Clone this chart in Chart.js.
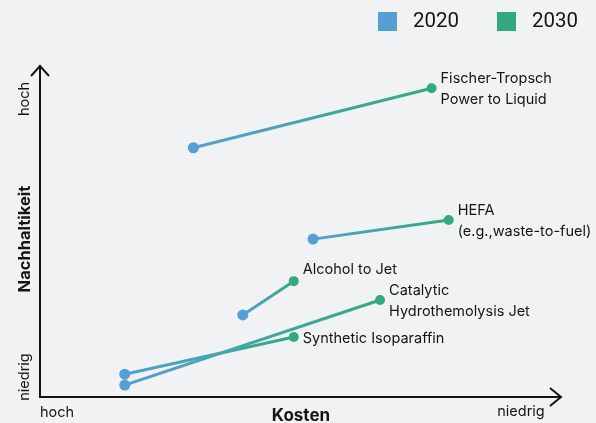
<!DOCTYPE html>
<html>
<head>
<meta charset="utf-8">
<script src="https://cdn.jsdelivr.net/npm/chart.js@4.4.1/dist/chart.umd.min.js"></script>
<style>
  html, body { margin: 0; padding: 0; background: #f1f2f4; }
  #wrap { width: 596px; height: 423px; position: relative; }
</style>
</head>
<body>
<div id="wrap"><canvas id="chart"></canvas></div>
<script>
// technologies, one line each from 2020 to 2030
const techNames = [
  ['Fischer-Tropsch', 'Power to Liquid'],
  ['HEFA', '(e.g.,waste-to-fuel)'],
  ['Alcohol to Jet'],
  ['Catalytic', 'Hydrothemolysis Jet'],
  ['Synthetic Isoparaffin']
];
// Kosten (0 = hoch, 100 = niedrig), Nachhaltigkeit (0 = niedrig, 100 = hoch)
const cost2020 = [29.5, 52.5, 39.0, 16.3, 16.3];
const sust2020 = [75.3, 47.7, 24.8, 3.6, 6.9];
const cost2030 = [75.3, 78.6, 48.8, 65.4, 48.8];
const sust2030 = [93.3, 53.5, 35.0, 29.3, 18.1];
const yearLabels = ['2020', '2030'];
const axisEnds = ['hoch', 'niedrig'];
const axisTitles = ['Kosten', 'Nachhaltikeit'];

const BLUE = '#559fd4';
const GREEN = '#33aa7d';
const INK = '#151515';
const FONT = 'Inter, "Noto Sans", sans-serif';

// label offset from the 2030 point (first line centre)
const labelDy = [-10, -9, -12, -9, 2];

const lineSets = techNames.map((n, i) => ({
  type: 'line',
  label: n.join(' '),
  data: [{x: cost2020[i], y: sust2020[i]}, {x: cost2030[i], y: sust2030[i]}],
  borderWidth: 3,
  pointRadius: 0,
  borderColor: BLUE,
  segment: {
    borderColor: c => {
      const g = c.chart.ctx.createLinearGradient(c.p0.x, c.p0.y, c.p1.x, c.p1.y);
      g.addColorStop(0, BLUE);
      g.addColorStop(1, GREEN);
      return g;
    }
  },
  clip: false,
  order: 2
}));

const pointSets = [
  {
    type: 'scatter', label: yearLabels[0],
    data: cost2020.map((v, i) => ({x: v, y: sust2020[i]})),
    backgroundColor: BLUE, borderWidth: 0, pointRadius: 5.5, clip: false, order: 1
  },
  {
    type: 'scatter', label: yearLabels[1],
    data: cost2030.map((v, i) => ({x: v, y: sust2030[i]})),
    backgroundColor: GREEN, borderWidth: 0, pointRadius: 5, clip: false, order: 0
  }
];

const decor = {
  id: 'decor',
  afterDraw(chart) {
    const {ctx, chartArea: a} = chart;
    ctx.save();
    // arrow heads
    ctx.strokeStyle = INK;
    ctx.lineWidth = 2;
    ctx.lineJoin = 'miter';
    ctx.beginPath();
    ctx.moveTo(a.left - 9, a.top + 10);
    ctx.lineTo(a.left, a.top);
    ctx.lineTo(a.left + 9, a.top + 10);
    ctx.moveTo(a.right - 10, a.bottom - 9);
    ctx.lineTo(a.right + 1, a.bottom);
    ctx.lineTo(a.right - 10, a.bottom + 9);
    ctx.stroke();

    // axis end labels and titles
    ctx.fillStyle = INK;
    ctx.textAlign = 'center';
    ctx.textBaseline = 'middle';
    ctx.font = '14.5px ' + FONT;
    ctx.fillText(axisEnds[0], 57, 413);
    ctx.fillText(axisEnds[1], 521, 412);
    ctx.font = 'bold 17px ' + FONT;
    ctx.fillText(axisTitles[0], 301, 416);

    const rot = (txt, x, y, font) => {
      ctx.save();
      ctx.translate(x, y);
      ctx.rotate(-Math.PI / 2);
      ctx.font = font;
      ctx.fillText(txt, 0, 0);
      ctx.restore();
    };
    rot(axisEnds[0], 25, 99, '14.5px ' + FONT);
    rot(axisEnds[1], 25, 377, '14.5px ' + FONT);
    rot(axisTitles[1], 25, 239, 'bold 16.5px ' + FONT);

    // point labels next to the 2030 points
    const meta = chart.getDatasetMeta(chart.data.datasets.length - 1);
    ctx.textAlign = 'left';
    ctx.font = '14.5px ' + FONT;
    meta.data.forEach((pt, i) => {
      techNames[i].forEach((line, k) => {
        ctx.fillText(line, pt.x + 9, pt.y + labelDy[i] + k * 21);
      });
    });

    // legend
    ctx.font = '20.5px Roboto, ' + FONT;
    const legendColors = [BLUE, GREEN];
    const legendX = [378, 497];
    yearLabels.forEach((y, i) => {
      ctx.fillStyle = legendColors[i];
      ctx.fillRect(legendX[i], 12, 19, 19);
      ctx.fillStyle = INK;
      ctx.fillText(y, legendX[i] + 35, 22);
    });
    ctx.restore();
  }
};

new Chart(document.getElementById('chart'), {
  data: { datasets: [...lineSets, ...pointSets] },
  options: {
    responsive: true,
    maintainAspectRatio: false,
    animation: false,
    layout: { padding: { top: 66, right: 36, left: 0, bottom: 0 } },
    plugins: {
      legend: { display: false },
      tooltip: { enabled: false }
    },
    scales: {
      x: {
        type: 'linear', min: 0, max: 100,
        ticks: { display: false },
        grid: { display: false },
        border: { display: true, color: INK, width: 2 },
        afterFit: s => { s.height = 26; }
      },
      y: {
        type: 'linear', min: 0, max: 100,
        ticks: { display: false },
        grid: { display: false },
        border: { display: true, color: INK, width: 2 },
        afterFit: s => { s.width = 40; }
      }
    }
  },
  plugins: [decor]
});
</script>
</body>
</html>
